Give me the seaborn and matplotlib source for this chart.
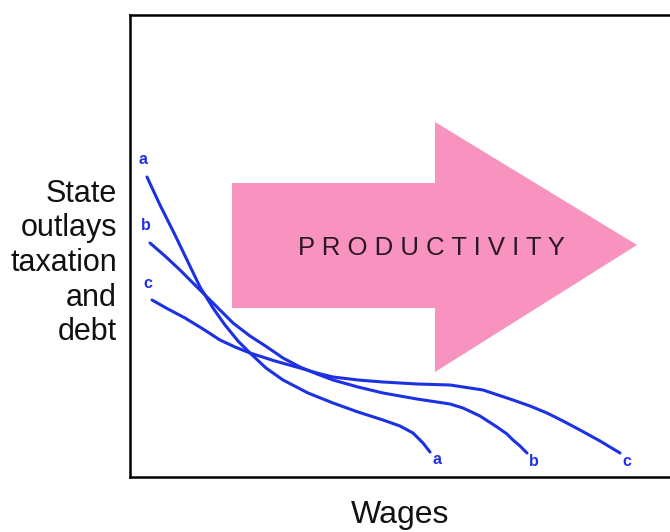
import numpy as np
import pandas as pd
import matplotlib.pyplot as plt
import seaborn as sns

# curves (x = wages, y = outlays; picture units, y grows downward)
a_x = [147, 160, 175, 188, 200, 213, 225, 238, 250, 266, 283, 308, 333, 358, 383, 400, 413, 423, 430]
a_y = [177, 205, 235, 262, 287, 308, 325, 341, 353, 368, 380, 393, 403, 412, 420, 426, 433, 443, 452]
b_x = [150, 165, 180, 197, 213, 233, 250, 267, 283, 300, 317, 333, 358, 383, 417, 450, 463, 480, 497, 507, 513, 520, 527]
b_y = [243, 256, 270, 287, 303, 323, 336, 347, 358, 367, 374, 380, 387, 393, 399, 404, 408, 416, 427, 434, 440, 446, 453]
c_x = [152, 168, 185, 203, 220, 235, 250, 275, 300, 317, 333, 358, 383, 417, 450, 483, 513, 530, 547, 563, 580, 600, 620]
c_y = [300, 309, 318, 329, 340, 347, 353, 361, 368, 373, 377, 380, 382, 384, 385, 390, 400, 406, 413, 421, 430, 441, 453]
curve_names = ["a", "b", "c"]

# the productivity arrow outline
arrow_x = [232, 435, 435, 637, 435, 435, 232]
arrow_y = [183, 183, 122, 245, 372, 308, 308]

blue = "#1c32e2"

df = pd.concat([
    pd.DataFrame({"x": a_x, "y": a_y, "curve": "a"}),
    pd.DataFrame({"x": b_x, "y": b_y, "curve": "b"}),
    pd.DataFrame({"x": c_x, "y": c_y, "curve": "c"}),
])

sns.set_style("white")
plt.rcParams["font.family"] = ["Liberation Sans", "DejaVu Sans"]

fig = plt.figure(figsize=(6.7, 5.32), dpi=100)
ax = fig.add_axes([130 / 670, 55 / 532, 540 / 670, 462 / 532])

ax.fill(arrow_x, arrow_y, color="#f893bf", lw=0, zorder=1)
ax.text(431, 248, "P R O D U C T I V I T Y", ha="center", va="center",
        fontsize=18.5, color="#2a1626", zorder=2)

sns.lineplot(data=df, x="x", y="y", hue="curve", sort=False, estimator=None,
             palette=[blue] * 3, legend=False, lw=2.2, ax=ax, zorder=3)

# curve letters at both ends
starts = [(a_x[0], a_y[0]), (b_x[0], b_y[0]), (c_x[0], c_y[0])]
ends = [(a_x[-1], a_y[-1]), (b_x[-1], b_y[-1]), (c_x[-1], c_y[-1])]
for name, (sx, sy), (ex, ey) in zip(curve_names, starts, ends):
    ax.text(sx - 4, sy - 17, name, color=blue, fontsize=11.5, fontweight="bold",
            ha="center", va="center")
    ax.text(ex + 7, ey + 8, name, color=blue, fontsize=11.5, fontweight="bold",
            ha="center", va="center")

ax.set_xlim(130, 670)
ax.set_ylim(477, 15)
ax.set_xticks([])
ax.set_yticks([])
ax.set_xlabel("")
ax.set_ylabel("")
for side in ["top", "left", "bottom"]:
    ax.spines[side].set_color("black")
    ax.spines[side].set_linewidth(1.8)
ax.spines["right"].set_visible(False)

ax.text(117, 263, "State\noutlays\ntaxation\nand\ndebt", ha="right", va="center",
        multialignment="right", fontsize=22, linespacing=1.2,
        color="#111111", clip_on=False)
ax.text(400, 515, "Wages", ha="center", va="center", fontsize=23,
        color="#111111", clip_on=False)

fig.savefig("out.png", dpi=100)
